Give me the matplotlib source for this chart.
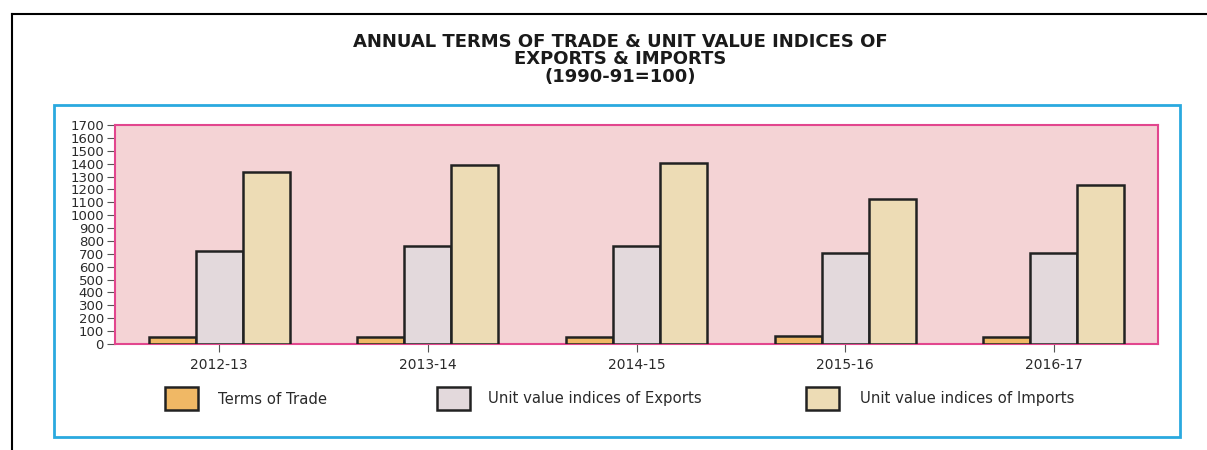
import matplotlib
matplotlib.use("Agg")
import matplotlib.pyplot as plt
import numpy as np
from matplotlib.patches import Rectangle
from matplotlib.lines import Line2D

plt.rcParams['font.family'] = ['DejaVu Sans']

categories = ["2012-13", "2013-14", "2014-15", "2015-16", "2016-17"]
terms_of_trade = [54, 52, 57, 60, 57]
exports_index = [722, 758, 758, 708, 708]
imports_index = [1332, 1389, 1407, 1123, 1236]
series_names = ["Terms of Trade", "Unit value indices of Exports", "Unit value indices of Imports"]
yticks = list(range(0, 1701, 100))

W, H = 1207, 450
fig = plt.figure(figsize=(W / 100, H / 100), dpi=100)
fig.patch.set_facecolor("white")
txt = "#2a2a2a"

# outer black frame lines (top and left)
fig.add_artist(Line2D([12 / W, 1.0], [1 - 13.5 / H, 1 - 13.5 / H], color="black", lw=1.5))
fig.add_artist(Line2D([12 / W, 12 / W], [0, 1 - 13.5 / H], color="black", lw=1.5))

# blue frame
fig.add_artist(Rectangle((54 / W, 1 - 437 / H), (1180 - 54) / W, (437 - 105) / H,
                         transform=fig.transFigure, fill=False, edgecolor="#2aa9df", lw=2))

# title
for yy, line in zip([42, 59, 77], ["ANNUAL TERMS OF TRADE & UNIT VALUE INDICES OF",
                                    "EXPORTS & IMPORTS", "(1990-91=100)"]):
    fig.text(620 / W, 1 - yy / H, line, ha="center", va="center",
             fontsize=13, fontweight="bold", color="#1a1a1a")

left, right, top, bottom = 115, 1158, 125, 344
ax = fig.add_axes([left / W, 1 - bottom / H, (right - left) / W, (bottom - top) / H])
ax.set_facecolor("#f4d3d5")
for s in ax.spines.values():
    s.set_color("#e2468e")
    s.set_linewidth(1.5)

x = np.arange(len(categories))
bw = 0.225
colors = ["#f0b865", "#e3d9dc", "#eddcb5"]
edge = "#222222"
ax.bar(x - bw, terms_of_trade, bw, color=colors[0], edgecolor=edge, lw=1.8, zorder=3)
ax.bar(x, exports_index, bw, color=colors[1], edgecolor=edge, lw=1.8, zorder=3)
ax.bar(x + bw, imports_index, bw, color=colors[2], edgecolor=edge, lw=1.8, zorder=3)

ax.set_xlim(-0.5, len(categories) - 0.5)
ax.set_ylim(0, 1700)
ax.set_yticks(yticks)
ax.set_yticklabels([str(v) for v in yticks], fontsize=9.5, color=txt)
ax.set_xticks(x)
ax.set_xticklabels(categories, fontsize=10, color=txt)
ax.tick_params(axis="y", length=6, color="#555555", pad=2)
ax.tick_params(axis="x", length=6, color="#555555", pad=4)

# legend drawn manually
leg_items = [(165, 218), (437, 488), (806, 860)]
for (bx, tx), c, name in zip(leg_items, colors, series_names):
    fig.add_artist(Rectangle((bx / W, 1 - 410 / H), 33 / W, 23 / H,
                             transform=fig.transFigure, facecolor=c, edgecolor=edge, lw=1.8))
    fig.text(tx / W, 1 - 399 / H, name, ha="left", va="center", fontsize=10.7, color=txt)

fig.savefig("out.png", dpi=100)
